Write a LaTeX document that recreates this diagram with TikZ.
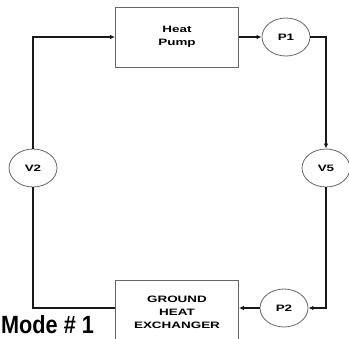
\documentclass[tikz,border=0pt]{standalone}
\usepackage{fontspec}
\newfontfamily\lblfont[FakeStretch=1.45]{Liberation Sans}
\newfontfamily\modefont[FakeStretch=0.87]{Liberation Sans}
\usetikzlibrary{arrows.meta,positioning,calc,shapes.geometric}

\begin{document}
\begin{tikzpicture}[x=1bp,y=-1bp,
    unit/.style={rectangle,draw=black!60,line width=0.8bp,minimum width=123bp,inner sep=0pt,align=center,font=\lblfont\bfseries\fontsize{9.3}{13}\selectfont},
    valve/.style={ellipse,draw=black!60,line width=0.8bp,minimum width=48bp,minimum height=38bp,inner sep=0pt,font=\lblfont\bfseries\fontsize{9.3}{11}\selectfont},
    pipe/.style={line width=1.6bp,black!90},
    arrow/.style={pipe,-{Latex[length=5bp,width=4.5bp]}}]
    \useasboundingbox (0,0) rectangle (349,339);
    \begin{scope}
    \clip (0,0) rectangle (349,339);
    \node[unit,minimum height=60bp] (hp) at (177,37) {Heat\\Pump};
    \node[unit,minimum height=64bp] (ghx) at (177,312) {GROUND\\HEAT\\EXCHANGER};
    \end{scope}
    \node[valve] (p1) at (286,37) {P1};
    \node[valve] (p2) at (284,308) {P2};
    \node[valve] (v2) at (33,168) {V2};
    \node[valve] (v5) at (326,168) {V5};
    \node[anchor=base west,inner sep=0pt,font=\modefont\bfseries\fontsize{25}{30}\selectfont] (mode) at (1,333) {Mode \# 1};
    % loop
    \draw[arrow] (v2.north) |- (hp.west);
    \draw[arrow] (hp.east) -- (p1.west);
    \draw[arrow] (p1.east) -| (v5.north);
    \draw[arrow] (v5.south) |- (p2.east);
    \draw[arrow] (p2.west) -- (p2.west -| ghx.east);
    \draw[pipe] (ghx.west |- p2.west) -| (v2.south);
\end{tikzpicture}
\end{document}
